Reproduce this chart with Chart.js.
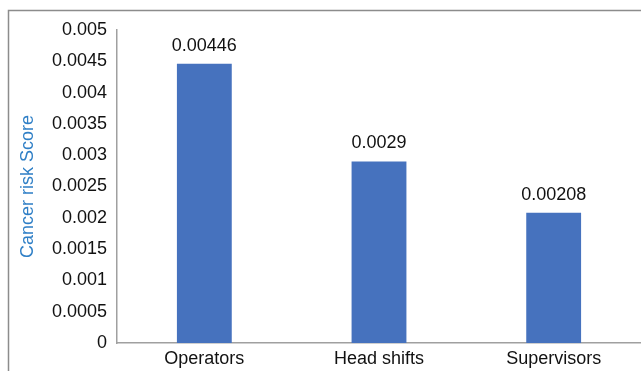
<!DOCTYPE html>
<html>
<head>
<meta charset="utf-8">
<script src="https://cdn.jsdelivr.net/npm/chart.js@4"></script>
<style>
  body { margin: 0; background: #fff; }
  canvas { display: block; }
</style>
</head>
<body>
<canvas id="riskChart" width="641" height="371"></canvas>
<script>
const categories = ['Operators', 'Head shifts', 'Supervisors'];
const riskScores = [0.00446, 0.0029, 0.00208];
const yMin = 0;
const yMax = 0.005;
const yStep = 0.0005;

const FONT = 'Liberation Sans, Arial, sans-serif';

// frame around the chart (only top and left edges show in the picture)
const frame = {
    id: 'frame',
    beforeDraw(chart) {
        const ctx = chart.ctx;
        ctx.save();
        ctx.strokeStyle = '#8c8c8c';
        ctx.lineWidth = 1.5;
        ctx.beginPath();
        ctx.moveTo(8.5, chart.height);
        ctx.lineTo(8.5, 10.5);
        ctx.lineTo(chart.width, 10.5);
        ctx.stroke();
        ctx.restore();
    }
};

// value labels above the bars
const valueLabels = {
    id: 'valueLabels',
    afterDatasetsDraw(chart) {
        const ctx = chart.ctx;
        const meta = chart.getDatasetMeta(0);
        ctx.save();
        ctx.font = '18px ' + FONT;
        ctx.fillStyle = '#111';
        ctx.textAlign = 'center';
        ctx.textBaseline = 'middle';
        meta.data.forEach((bar, i) => {
            ctx.fillText(String(riskScores[i]), bar.x, bar.y - 18);
        });
        ctx.restore();
    }
};

const ctx = document.getElementById('riskChart');

new Chart(ctx, {
    type: 'bar',
    data: {
        labels: categories,
        datasets: [{
            data: riskScores,
            backgroundColor: '#4672BE',
            categoryPercentage: 1,
            barPercentage: 0.314
        }]
    },
    options: {
        responsive: false,
        animation: false,
        layout: { padding: { left: 12, top: 30, right: 0, bottom: 0 } },
        plugins: {
            legend: { display: false },
            tooltip: { enabled: false }
        },
        scales: {
            x: {
                grid: { display: false, drawTicks: false },
                border: { color: '#a0a0a0', width: 1.5 },
                ticks: {
                    color: '#111',
                    font: { family: FONT, size: 18 },
                    padding: 5
                },
                afterFit(scale) { scale.height = 28; }
            },
            y: {
                min: yMin,
                max: yMax,
                grid: { display: false, drawTicks: false },
                border: { color: '#a0a0a0', width: 1.5 },
                ticks: {
                    stepSize: yStep,
                    color: '#111',
                    font: { family: FONT, size: 18 },
                    padding: 10,
                    callback: v => String(Number(v.toFixed(4)))
                },
                title: {
                    display: true,
                    text: 'Cancer risk Score',
                    color: '#2f7fc6',
                    font: { family: FONT, size: 18 },
                    padding: { top: 5, bottom: 0 }
                },
                afterFit(scale) { scale.width = 105; }
            }
        }
    },
    plugins: [frame, valueLabels]
});
</script>
</body>
</html>
